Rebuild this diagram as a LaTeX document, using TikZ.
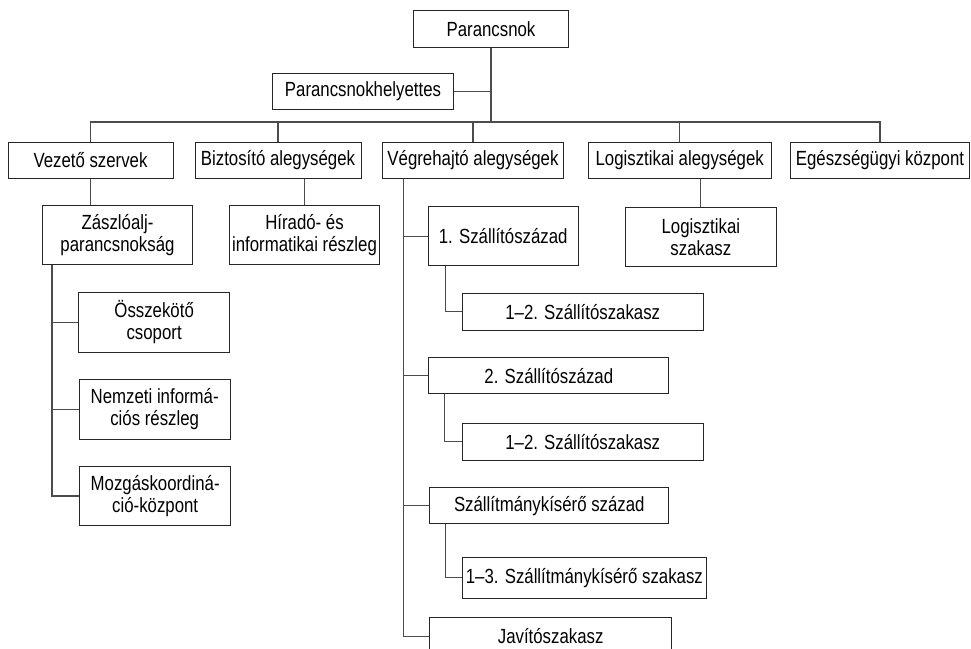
\documentclass[tikz,border=0pt]{standalone}
\usepackage{fontspec}
\setmainfont{Liberation Sans}[FakeStretch=0.82]
\begin{document}
\begin{tikzpicture}[x=1pt,y=-1pt,
  orgbox/.style={draw=black!85, line width=1pt, inner sep=0pt, align=center,
    anchor=north west, font=\fontsize{20.5}{22}\selectfont},
  link/.style={draw=black!70, line width=1.2pt}]
\useasboundingbox (0,0) rectangle (971,648);
\clip (0,0) rectangle (971,648);
\fill[white] (0,0) rectangle (971,648);
% top
\node[orgbox, minimum width=155pt, minimum height=37pt] (parancsnok) at (413,10) {Parancsnok};
\node[orgbox, minimum width=181pt, minimum height=36pt] (helyettes) at (272,73) {Parancsnokhelyettes};
% level 2
\node[orgbox, minimum width=165pt, minimum height=36pt] (vezeto) at (7.5,141.5) {Vezető szervek};
\node[orgbox, minimum width=166pt, minimum height=36pt] (biztosito) at (194.5,141.5) {Biztosító alegységek};
\node[orgbox, minimum width=181.6pt, minimum height=36pt] (vegrehajto) at (381.7,141.5) {Végrehajtó alegységek};
\node[orgbox, minimum width=183pt, minimum height=36pt] (logisztikai) at (587.7,141.5) {Logisztikai alegységek};
\node[orgbox, minimum width=179pt, minimum height=36pt] (egeszseg) at (790,141.5) {Egészségügyi központ};
% level 3
\node[orgbox, minimum width=150pt, minimum height=59pt] (zaszlo) at (42,205) {Zászlóalj-\\parancsnokság};
\node[orgbox, minimum width=150pt, minimum height=59pt] (hirado) at (229,205) {Híradó- és\\informatikai részleg};
\node[orgbox, minimum width=150.7pt, minimum height=59.5pt] (logszak) at (625,206.5) {Logisztikai\\szakasz};
\node[orgbox, minimum width=150pt, minimum height=59.3pt] (szaz1) at (427.7,206) {1. Szállítószázad};
\node[orgbox, minimum width=241pt, minimum height=37.3pt] (szak1) at (461.7,292.7) {1–2. Szállítószakasz};
\node[orgbox, minimum width=240pt, minimum height=36pt] (szaz2) at (428.3,357.3) {2. Szállítószázad};
\node[orgbox, minimum width=241pt, minimum height=37.3pt] (szak2) at (461.7,422.7) {1–2. Szállítószakasz};
\node[orgbox, minimum width=239pt, minimum height=36pt] (kiser) at (429.3,487.3) {Szállítmánykísérő század};
\node[orgbox, minimum width=244.3pt, minimum height=41pt] (szak3) at (461.7,556.7) {1–3. Szállítmánykísérő szakasz};
\node[orgbox, minimum width=241.7pt, minimum height=37pt] (javito) at (429.3,617.3) {Javítószakasz};
\node[orgbox, minimum width=150.7pt, minimum height=59.4pt] (osszek) at (78.3,292.3) {Összekötő\\csoport};
\node[orgbox, minimum width=151pt, minimum height=60pt] (nemzeti) at (78.7,379) {Nemzeti informá-\\ciós részleg};
\node[orgbox, minimum width=150.7pt, minimum height=59pt] (mozgas) at (79.3,466) {Mozgáskoordiná-\\ció-központ};
% helper coordinates
\coordinate (bar) at (0,122);
\coordinate (zx) at ([xshift=10pt]zaszlo.south west);
\coordinate (vx) at ([xshift=21.6pt]vegrehajto.south west);
\coordinate (s1) at ([xshift=18pt]szaz1.south west);
\coordinate (s2) at ([xshift=16pt]szaz2.south west);
\coordinate (s3) at ([xshift=16pt]kiser.south west);
% connectors
\draw[link] (parancsnok.south) -- (parancsnok.south |- bar);
\draw[link] (helyettes.east) -- (helyettes.east -| parancsnok.south);
\draw[link] (vezeto.north) -- (vezeto.north |- bar) -- (egeszseg.north |- bar) -- (egeszseg.north);
\foreach \n in {biztosito, vegrehajto, logisztikai}
  \draw[link] (\n.north) -- (\n.north |- bar);
\draw[link] (vezeto.south) -- (vezeto.south |- zaszlo.north);
\draw[link] (hirado.north) -- (hirado.north |- biztosito.south);
\draw[link] (logszak.north) -- (logszak.north |- logisztikai.south);
% left column
\draw[link] (zx) -- (zx |- mozgas.west) -- (mozgas.west);
\draw[link] (zx |- osszek.west) -- (osszek.west);
\draw[link] (zx |- nemzeti.west) -- (nemzeti.west);
% Vegrehajto column
\draw[link] (vx) -- (vx |- javito.west) -- (javito.west);
\draw[link] (vx |- szaz1.west) -- (szaz1.west);
\draw[link] (vx |- szaz2.west) -- (szaz2.west);
\draw[link] (vx |- kiser.west) -- (kiser.west);
\draw[link] (s1) -- (s1 |- szak1.west) -- (szak1.west);
\draw[link] (s2) -- (s2 |- szak2.west) -- (szak2.west);
\draw[link] (s3) -- (s3 |- szak3.west) -- (szak3.west);
\end{tikzpicture}
\end{document}
